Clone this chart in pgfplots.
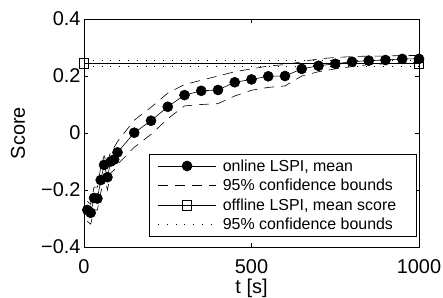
\documentclass[border=0pt]{standalone}
\usepackage{pgfplots}
\pgfplotsset{compat=1.18}
\usepackage{pgfplotstable}
\usepackage{fontspec}
\setmainfont{Liberation Sans}
\pgfplotstableread{
t y lo hi
10 -0.270 -0.310 -0.240
20 -0.280 -0.320 -0.250
30 -0.228 -0.270 -0.190
40 -0.230 -0.270 -0.190
50 -0.165 -0.210 -0.120
60 -0.112 -0.150 -0.080
70 -0.155 -0.200 -0.110
80 -0.100 -0.140 -0.060
90 -0.093 -0.130 -0.050
100 -0.068 -0.110 -0.030
150 0.001 -0.050 0.045
200 0.043 -0.005 0.090
250 0.092 0.050 0.140
300 0.133 0.095 0.170
350 0.148 0.100 0.185
400 0.151 0.103 0.200
450 0.178 0.130 0.215
500 0.188 0.150 0.225
550 0.199 0.160 0.235
600 0.200 0.165 0.240
650 0.225 0.200 0.250
700 0.236 0.215 0.260
750 0.243 0.225 0.265
800 0.250 0.233 0.268
850 0.254 0.240 0.270
900 0.256 0.243 0.270
950 0.260 0.246 0.272
1000 0.260 0.248 0.272
}\online
\pgfplotstableread{
t y lo hi
0 0.245 0.233 0.256
1000 0.245 0.233 0.256
}\offline
\begin{document}
\begin{tikzpicture}
\begin{axis}[
  scale only axis,
  width=335bp, height=228bp,
  xmin=0, xmax=1000, ymin=-0.4, ymax=0.4,
  xtick={0,500,1000},
  xticklabels={0,500,1000},
  ytick={-0.4,-0.2,0,0.2,0.4},
  yticklabels={−0.4,−0.2,0,0.2,0.4},
  tick align=inside,
  major tick length=4bp,
  axis line style={line width=0.7pt},
  every tick/.style={line width=0.6pt, black},
  tick label style={font=\fontsize{20}{24}\selectfont},
  label style={font=\fontsize{20}{24}\selectfont},
  xticklabel style={anchor=base, yshift=-26bp},
  xlabel={t [s]},
  ylabel={Score},
  xlabel style={at={(axis description cs:0.5,0)}, anchor=base, yshift=-46bp},
  ylabel style={at={(axis description cs:0,0.5)}, anchor=base, yshift=59bp},
  legend style={at={(0.993,0.044)}, anchor=south east, draw=black, line width=0.6pt,
    font=\fontsize{16}{19}\selectfont, inner xsep=8bp, inner ysep=4bp,
    nodes={inner sep=1.5bp}, row sep=3.5bp,
    /tikz/every odd column/.append style={column sep=5bp}},
  legend cell align=left,
  legend image code/.code={\draw[mark repeat=2,mark phase=2,#1] plot coordinates {(0bp,0bp) (29bp,0bp) (58bp,0bp)};},
]
\addplot[black, line width=0.6pt, mark=*, mark size=5bp, mark options={solid}] table[x=t,y=y]{\online};
\addlegendentry{online LSPI, mean}
\addplot[black, line width=0.6pt, dash pattern=on 10bp off 7bp] table[x=t,y=lo]{\online};
\addlegendentry{95\% confidence bounds}
\addplot[black, line width=0.6pt, mark=square, mark size=4.7bp, mark options={solid}] table[x=t,y=y]{\offline};
\addlegendentry{\makebox[184bp][l]{offline LSPI, mean score}}
\addplot[black, line width=0.6pt, dash pattern=on 0.8bp off 8bp] table[x=t,y=lo]{\offline};
\addlegendentry{95\% confidence bounds}
\addplot[black, line width=0.6pt, dash pattern=on 10bp off 7bp, forget plot] table[x=t,y=hi]{\online};
\addplot[black, line width=0.6pt, dash pattern=on 0.8bp off 8bp, forget plot] table[x=t,y=hi]{\offline};
\end{axis}
\pgfresetboundingbox
\useasboundingbox (-84bp,-51bp) rectangle (359bp,247bp);
\end{tikzpicture}
\end{document}
